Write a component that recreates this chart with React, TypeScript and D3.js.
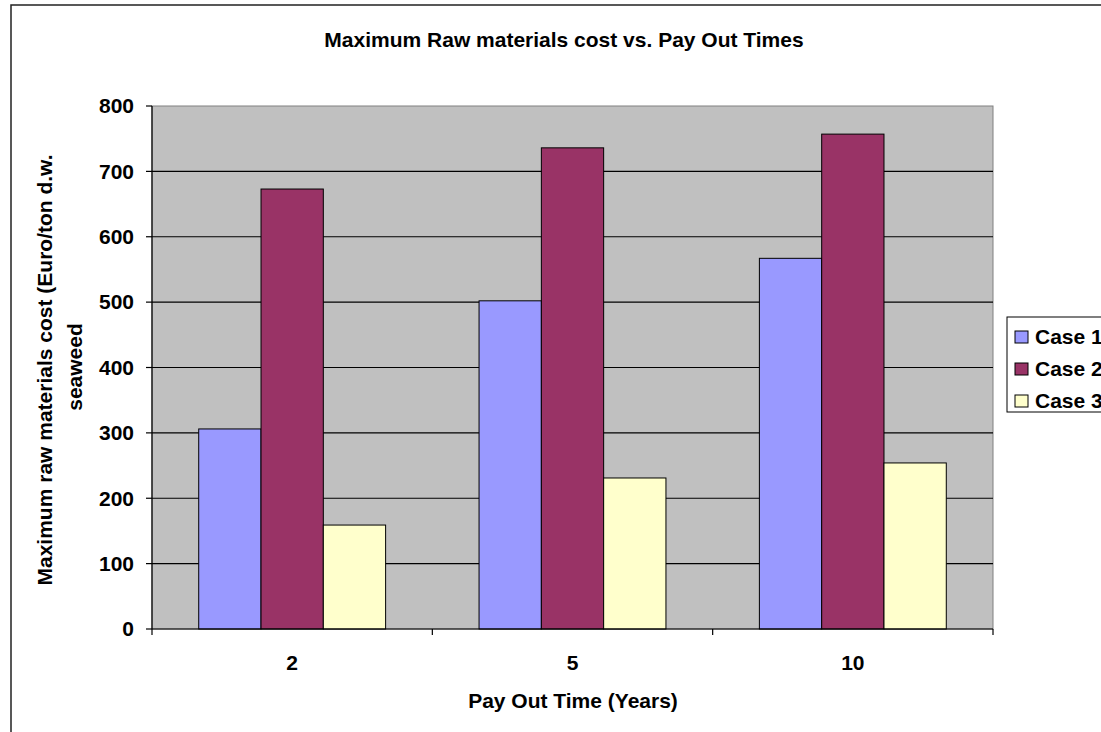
import React from "react";
import * as d3 from "d3";

const categories = ["2", "5", "10"];
const seriesNames = ["Case 1", "Case 2", "Case 3"];
const case1 = [306, 502, 567];
const case2 = [673, 736, 757];
const case3 = [159, 231, 254];
const yTicks = [0, 100, 200, 300, 400, 500, 600, 700, 800];
const colors = ["#9999FF", "#993366", "#FFFFCC"];

const W = 1101;
const H = 732;
const plot = { left: 152, top: 106, right: 993, bottom: 629 };
const FONT = "'Liberation Sans', Arial, sans-serif";
const FS = 21;

export default function App() {
  const series = [case1, case2, case3];
  const x0 = d3.scaleBand<string>().domain(categories).range([plot.left, plot.right]).padding(0);
  const bw = x0.bandwidth();
  const x1 = d3
    .scaleBand<string>()
    .domain(seriesNames)
    .range([bw * (0.75 / 4.5), bw * (3.75 / 4.5)])
    .padding(0);
  const y = d3.scaleLinear().domain([0, 800]).range([plot.bottom, plot.top]);

  const boundaries = [...categories.map((c) => x0(c)!), plot.right];

  return (
    <svg
      width={W}
      height={H}
      style={{ position: "absolute", left: 0, top: 0, background: "#fff" }}
      fontFamily={FONT}
      fontWeight="bold"
    >
      <rect x={11} y={5} width={W + 20} height={H + 20} fill="#fff" stroke="#222" strokeWidth={1.5} />
      <text x={564} y={47} textAnchor="middle" fontSize={FS} fill="#000">
        Maximum Raw materials cost vs. Pay Out Times
      </text>

      <rect
        x={plot.left}
        y={plot.top}
        width={plot.right - plot.left}
        height={plot.bottom - plot.top}
        fill="#C0C0C0"
        stroke="#808080"
        strokeWidth={1}
      />
      {yTicks
        .filter((t) => t > 0 && t < 800)
        .map((t) => (
          <line key={t} x1={plot.left} x2={plot.right} y1={y(t)} y2={y(t)} stroke="#000" strokeWidth={1.2} />
        ))}

      {categories.map((c, ci) =>
        seriesNames.map((s, si) => {
          const v = series[si][ci];
          return (
            <rect
              key={c + s}
              x={x0(c)! + x1(s)!}
              y={y(v)}
              width={x1.bandwidth()}
              height={y(0) - y(v)}
              fill={colors[si]}
              stroke="#000"
              strokeWidth={1}
            />
          );
        })
      )}

      {/* axes */}
      <line x1={plot.left} x2={plot.left} y1={plot.top} y2={plot.bottom} stroke="#000" strokeWidth={1.2} />
      <line x1={plot.left} x2={plot.right} y1={plot.bottom} y2={plot.bottom} stroke="#000" strokeWidth={1.2} />
      {yTicks.map((t) => (
        <g key={t}>
          <line x1={plot.left - 6} x2={plot.left} y1={y(t)} y2={y(t)} stroke="#000" strokeWidth={1.2} />
          <text x={134} y={y(t)} dy="0.35em" textAnchor="end" fontSize={FS} fill="#000">
            {t}
          </text>
        </g>
      ))}
      {boundaries.map((b, i) => (
        <line key={i} x1={b} x2={b} y1={plot.bottom} y2={plot.bottom + 6} stroke="#000" strokeWidth={1.2} />
      ))}
      {categories.map((c) => (
        <text key={c} x={x0(c)! + bw / 2} y={670} textAnchor="middle" fontSize={FS} fill="#000">
          {c}
        </text>
      ))}
      <text x={573} y={708} textAnchor="middle" fontSize={FS} fill="#000">
        Pay Out Time (Years)
      </text>

      <g transform="translate(52,370) rotate(-90)">
        <text x={0} y={0} textAnchor="middle" fontSize={FS} fill="#000">
          Maximum raw materials cost (Euro/ton d.w.
        </text>
      </g>
      <g transform="translate(82,367) rotate(-90)">
        <text x={0} y={0} textAnchor="middle" fontSize={FS} fill="#000">
          seaweed
        </text>
      </g>

      {/* legend */}
      <rect x={1007} y={317} width={120} height={95} fill="#fff" stroke="#000" strokeWidth={1} />
      {seriesNames.map((s, i) => (
        <g key={s}>
          <rect x={1015} y={331 + i * 32} width={13} height={12} fill={colors[i]} stroke="#000" strokeWidth={1} />
          <text x={1035} y={337 + i * 32} dy="0.35em" fontSize={FS} fill="#000">
            {s}
          </text>
        </g>
      ))}
    </svg>
  );
}
